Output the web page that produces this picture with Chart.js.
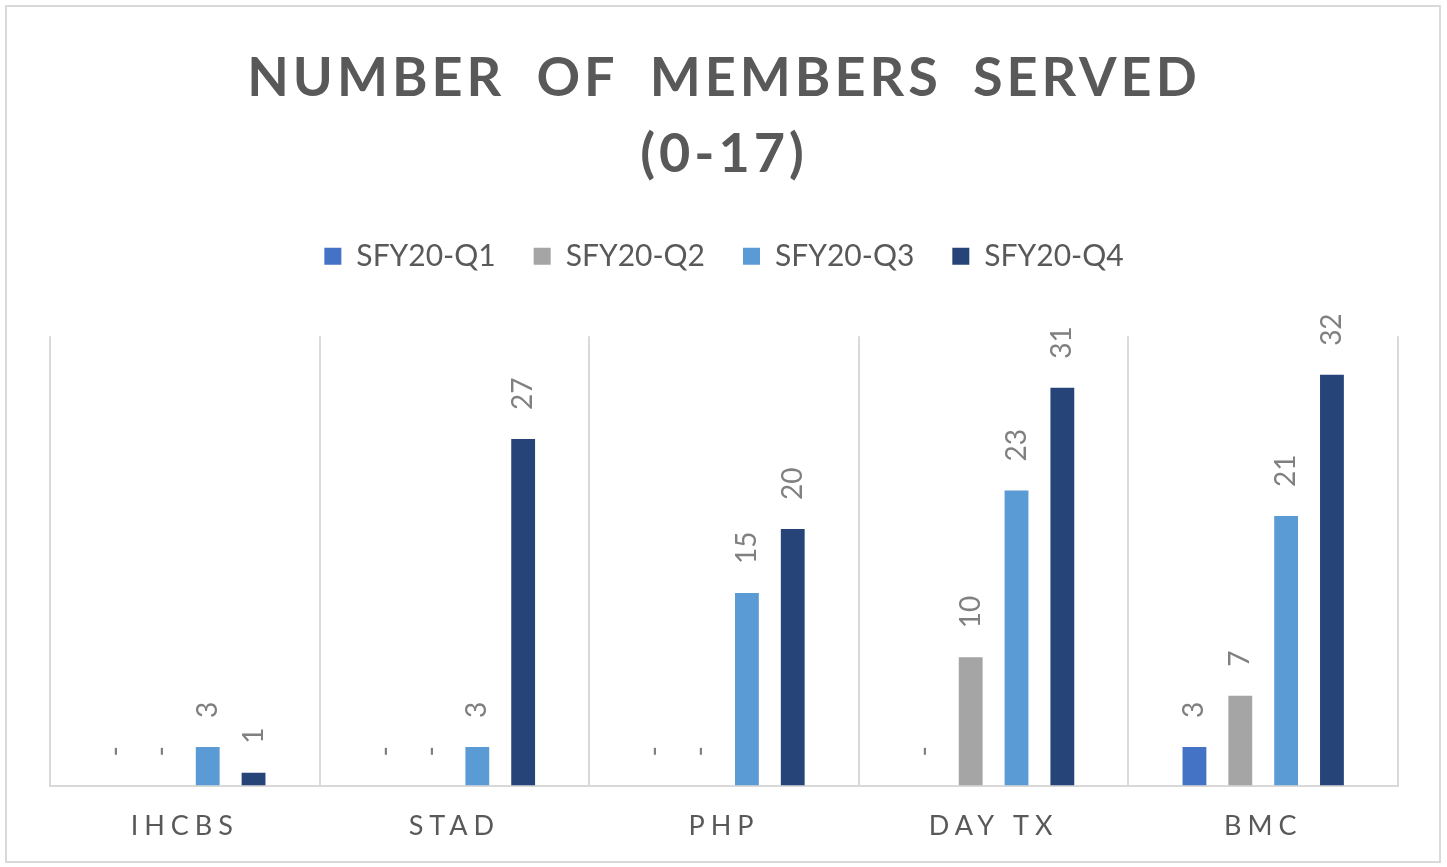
<!DOCTYPE html>
<html>
<head>
<meta charset="utf-8">
<title>Number of Members Served (0-17)</title>
<script src="https://cdn.jsdelivr.net/npm/chart.js@4"></script>
<style>
  html, body { margin: 0; padding: 0; background: #fff; }
  #wrap { position: relative; width: 1447px; height: 867px; }
  #frame {
    position: absolute; left: 5px; top: 5px; width: 1432px; height: 854px;
    border: 2px solid #d9d9d9; pointer-events: none;
  }
</style>
</head>
<body>
<div id="wrap">
  <canvas id="membersChart" width="1447" height="867"></canvas>
  <div id="frame"></div>
</div>
<script>
const categories = ['IHCBS', 'STAD', 'PHP', 'DAY TX', 'BMC'];
const seriesNames = ['SFY20-Q1', 'SFY20-Q2', 'SFY20-Q3', 'SFY20-Q4'];
const q1 = [0, 0, 0, 0, 3];
const q2 = [0, 0, 0, 10, 7];
const q3 = [3, 3, 15, 23, 21];
const q4 = [1, 27, 20, 31, 32];
const colors = ['#4472c4', '#a5a5a5', '#5b9bd5', '#264478'];

const textGray = '#595959';

// bar value labels, rotated, zero shown as a dash
const valueLabels = {
    id: 'valueLabels',
    afterDatasetsDraw(chart) {
        const ctx = chart.ctx;
        ctx.save();
        ctx.font = '28px Lato';
        ctx.fillStyle = '#808080';
        ctx.textAlign = 'left';
        ctx.textBaseline = 'middle';
        chart.data.datasets.forEach((ds, i) => {
            chart.getDatasetMeta(i).data.forEach((bar, j) => {
                const v = ds.data[j];
                ctx.save();
                ctx.translate(bar.x, bar.y - 29);
                ctx.rotate(-Math.PI / 2);
                ctx.fillText(v === 0 ? '-' : String(v), 0, 0);
                ctx.restore();
            });
        });
        ctx.restore();
    }
};

// letter spacing for title and axis labels, extra room under legend
const spacing = {
    id: 'spacing',
    beforeInit(chart) {
        const title = chart.titleBlock;
        const drawTitle = title.draw;
        title.draw = function (area) {
            const c = this.ctx;
            c.save();
            c.letterSpacing = '4px';
            c.wordSpacing = '14px';
            drawTitle.call(this, area);
            c.restore();
        };
        const legend = chart.legend;
        const fitLegend = legend.fit;
        legend.fit = function () {
            fitLegend.call(this);
            this.height += 55;
        };
    },
    afterUpdate(chart) {
        const x = chart.scales.x;
        if (x._spaced) return;
        const drawLabels = x.drawLabels;
        x.drawLabels = function (area) {
            const c = this.ctx;
            c.save();
            c.letterSpacing = '6px';
            drawLabels.call(this, area);
            c.restore();
        };
        x._spaced = true;
    }
};

const ctx = document.getElementById('membersChart').getContext('2d');

new Chart(ctx, {
    type: 'bar',
    data: {
        labels: categories,
        datasets: [q1, q2, q3, q4].map((vals, i) => ({
            label: seriesNames[i],
            data: vals,
            backgroundColor: colors[i],
            categoryPercentage: 0.68,
            barPercentage: 0.52
        }))
    },
    options: {
        responsive: false,
        animation: false,
        layout: { padding: { left: 50, right: 49, top: 0, bottom: 1 } },
        plugins: {
            title: {
                display: true,
                text: ['NUMBER OF MEMBERS SERVED', '(0-17)'],
                color: textGray,
                font: { family: 'Lato', size: 54, weight: 'bold', lineHeight: 1.42 },
                padding: { top: 40, bottom: 10 }
            },
            legend: {
                position: 'top',
                labels: {
                    color: textGray,
                    font: { family: 'Lato', size: 30 },
                    boxWidth: 17,
                    boxHeight: 17,
                    padding: 38
                }
            },
            tooltip: { enabled: false }
        },
        scales: {
            x: {
                grid: { display: true, offset: true, color: '#d9d9d9', lineWidth: 2, drawTicks: false },
                border: { display: true, color: '#d9d9d9', width: 2 },
                ticks: { color: textGray, font: { family: 'Lato', size: 27 }, padding: 24 }
            },
            y: {
                display: false,
                min: 0,
                max: 35
            }
        }
    },
    plugins: [valueLabels, spacing]
});
</script>
</body>
</html>
